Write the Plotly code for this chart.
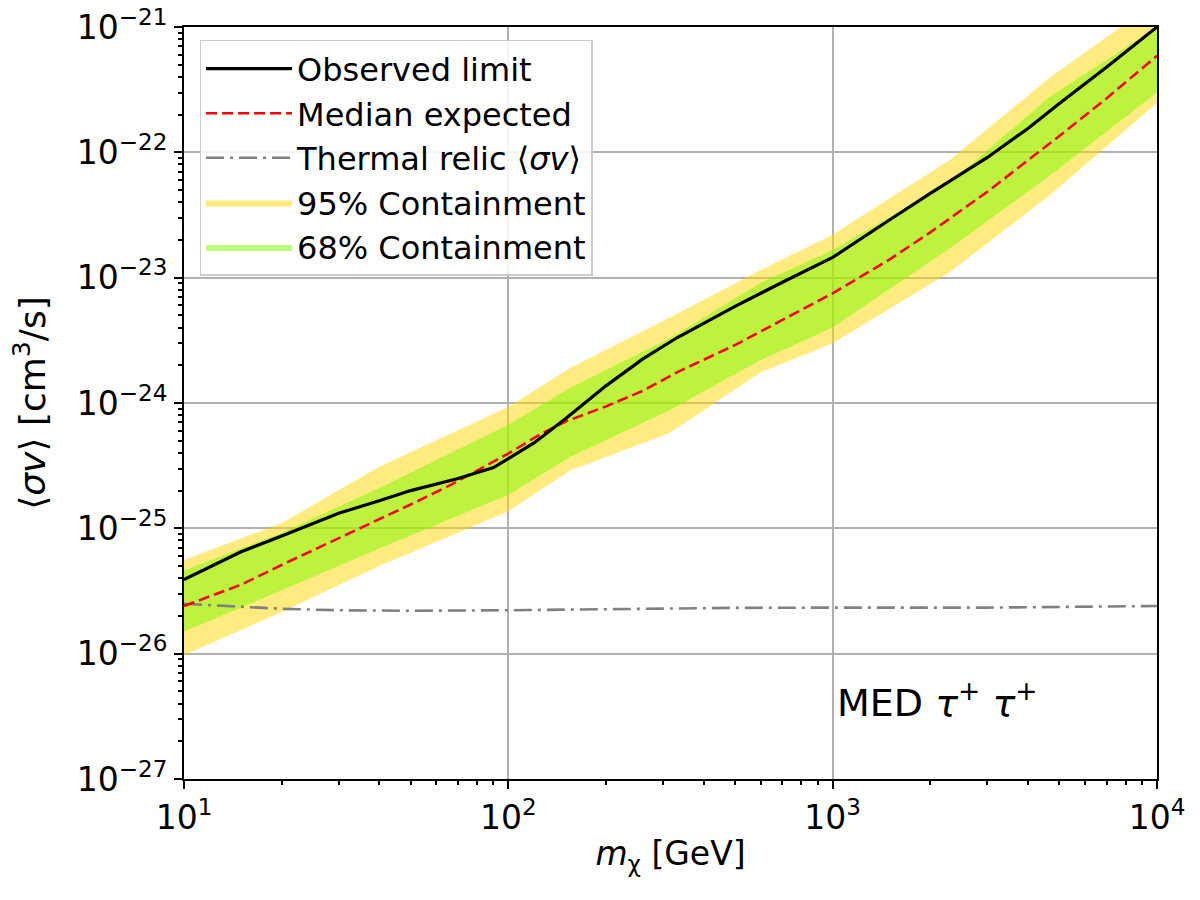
import plotly.graph_objects as go

# ---------------- data ----------------
obs_mass = [10, 15, 20, 30, 40, 50, 70, 90, 120, 150, 200, 260, 330, 500, 700,
            1000, 1500, 2000, 3000, 4000, 5000, 7000, 10000]
obs_limit = [3.9e-26, 6.5e-26, 8.7e-26, 1.32e-25, 1.66e-25, 2.0e-25, 2.5e-25,
             3.05e-25, 4.8e-25, 7.5e-25, 1.37e-24, 2.25e-24, 3.3e-24, 5.9e-24,
             9.2e-24, 1.45e-23, 2.9e-23, 4.7e-23, 9.1e-23, 1.55e-22, 2.45e-22,
             4.8e-22, 1.0e-21]

med_mass = [10, 15, 20, 30, 40, 50, 66, 100, 125, 150, 200, 260, 330, 500, 700,
            1000, 1500, 2000, 3000, 4000, 5000, 7000, 10000]
med_expected = [2.4e-26, 3.55e-26, 5.1e-26, 8.3e-26, 1.17e-25, 1.55e-25, 2.2e-25,
                3.95e-25, 5.6e-25, 7.1e-25, 9.4e-25, 1.25e-24, 1.75e-24, 2.9e-24,
                4.6e-24, 7.5e-24, 1.4e-23, 2.3e-23, 4.85e-23, 8.55e-23, 1.35e-22,
                2.7e-22, 5.9e-22]

band_mass = [10, 20, 40, 100, 155, 315, 600, 1000, 2300, 4700, 10000]
band95_hi = [5.6e-26, 1.10e-25, 3.1e-25, 9.3e-25, 1.9e-24, 4.8e-24, 1.15e-23,
             2.2e-23, 8.7e-23, 4.0e-22, 1.6e-21]
band68_hi = [4.6e-26, 9.2e-26, 2.1e-25, 6.7e-25, 1.32e-24, 3.3e-24, 9.1e-24,
             1.66e-23, 5.8e-23, 2.8e-22, 1.0e-21]
band68_lo = [1.5e-26, 3.2e-26, 6.9e-26, 1.85e-25, 3.7e-25, 8.8e-25, 2.2e-24,
             4.0e-24, 1.72e-23, 6.6e-23, 3.0e-22]
band95_lo = [9.7e-27, 2.15e-26, 5.0e-26, 1.37e-25, 2.9e-25, 5.8e-25, 1.76e-24,
             3.0e-24, 1.11e-23, 4.6e-23, 2.47e-22]

relic_mass = [10, 15, 20, 30, 50, 100, 200, 500, 1000, 3000, 10000]
relic_sv = [2.5e-26, 2.35e-26, 2.28e-26, 2.22e-26, 2.2e-26, 2.22e-26, 2.27e-26,
            2.32e-26, 2.33e-26, 2.33e-26, 2.4e-26]

x_tickvals = [10, 100, 1000, 10000]
x_ticktext = ["10<sup>1</sup>", "10<sup>2</sup>", "10<sup>3</sup>", "10<sup>4</sup>"]
y_tickvals = [1e-27, 1e-26, 1e-25, 1e-24, 1e-23, 1e-22, 1e-21]
y_ticktext = ["10<sup>−27</sup>", "10<sup>−26</sup>", "10<sup>−25</sup>",
              "10<sup>−24</sup>", "10<sup>−23</sup>", "10<sup>−22</sup>",
              "10<sup>−21</sup>"]

FONT = "DejaVu Sans"

fig = go.Figure()

# bands
fig.add_trace(go.Scatter(
    x=band_mass + band_mass[::-1], y=band95_hi + band95_lo[::-1],
    fill="toself", fillcolor="rgba(255,215,0,0.5)", line=dict(width=0),
    mode="lines", name="95% Containment", legendrank=4, legendgroup="g4",
    hoverinfo="skip"))
fig.add_trace(go.Scatter(
    x=band_mass + band_mass[::-1], y=band68_hi + band68_lo[::-1],
    fill="toself", fillcolor="rgba(124,252,0,0.5)", line=dict(width=0),
    mode="lines", name="68% Containment", legendrank=5, legendgroup="g5",
    hoverinfo="skip"))

# lines
fig.add_trace(go.Scatter(
    x=relic_mass, y=relic_sv, mode="lines",
    line=dict(color="#808080", width=2.6, dash="18px,6px,3px,6px"),
    name="Thermal relic ⟨<i>σv</i>⟩", legendrank=3, legendgroup="g3"))
fig.add_trace(go.Scatter(
    x=med_mass, y=med_expected, mode="lines",
    line=dict(color="red", width=2.6, dash="11px,5px"),
    name="Median expected", legendrank=2, legendgroup="g2"))
fig.add_trace(go.Scatter(
    x=obs_mass, y=obs_limit, mode="lines",
    line=dict(color="black", width=3.2),
    name="Observed limit", legendrank=1, legendgroup="g1"))

axis_common = dict(
    type="log", showline=True, linecolor="black", linewidth=2, mirror=True,
    ticks="outside", ticklen=8, tickwidth=1.5, tickcolor="black",
    showgrid=True, gridcolor="#b0b0b0", gridwidth=1.5,
    tickmode="array",
    tickfont=dict(family=FONT, size=33, color="black"),
    minor=dict(ticks="outside", ticklen=4, tickcolor="black", dtick="D1",
               showgrid=False),
    zeroline=False,
)

fig.update_xaxes(range=[1, 4], tickvals=x_tickvals, ticktext=x_ticktext,
                 title=dict(text="<i>m</i><sub>χ</sub> [GeV]",
                            font=dict(family=FONT, size=33, color="black"),
                            standoff=6),
                 **axis_common)
fig.update_yaxes(range=[-27, -21], tickvals=y_tickvals, ticktext=y_ticktext,
                 title=dict(text="⟨<i>σv</i>⟩ [cm<sup>3</sup>/s]",
                            font=dict(family=FONT, size=36, color="black"),
                            standoff=20),
                 **axis_common)

fig.add_annotation(
    x=0.669, y=0.105, xref="paper", yref="paper", xanchor="left",
    yanchor="middle", showarrow=False,
    text="MED <i>τ</i><sup>+</sup> <i>τ</i><sup>+</sup>",
    font=dict(family=FONT, size=38, color="black"))

fig.update_layout(
    width=1200, height=900,
    margin=dict(l=184, r=43, t=27, b=121, autoexpand=False),
    plot_bgcolor="white", paper_bgcolor="white",
    font=dict(family=FONT, color="black"),
    legend=dict(x=0.016, y=0.983, xanchor="left", yanchor="top",
                bgcolor="rgba(255,255,255,0.85)", bordercolor="#cccccc",
                borderwidth=1.5, font=dict(family=FONT, size=32, color="black"),
                itemwidth=86, tracegroupgap=15, traceorder="normal"),
    showlegend=True,
)

fig.write_html("out.html")
